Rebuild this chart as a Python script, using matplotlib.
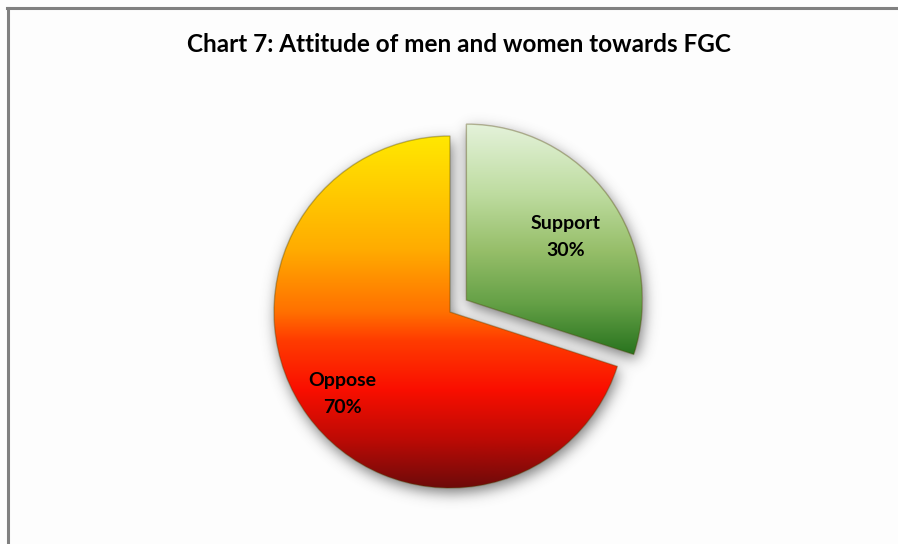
import numpy as np
import matplotlib
matplotlib.use('Agg')
import matplotlib.pyplot as plt
from matplotlib.colors import LinearSegmentedColormap
from matplotlib.lines import Line2D
from matplotlib.patches import Wedge

labels = ['Support', 'Oppose']
values = [30, 70]
title = 'Chart 7: Attitude of men and women towards FGC'

W, H = 898, 544
R = 176.0
CX, CY = 450.0, 312.0

fig = plt.figure(figsize=(W / 100, H / 100), dpi=100)
fig.patch.set_facecolor('#fdfdfd')
ax = fig.add_axes([0, 0, 1, 1])
wedges, texts = ax.pie(values, explode=[0.115, 0], startangle=90, counterclock=False,
                       radius=1, wedgeprops=dict(facecolor='none', edgecolor='none'))
xl = (-CX / R, (W - CX) / R)
yl = (-(H - CY) / R, CY / R)

# soft shadow
xs = np.linspace(xl[0], xl[1], W)
ys = np.linspace(yl[1], yl[0], H)
X, Y = np.meshgrid(xs, ys)
mask = np.zeros_like(X)
for w in wedges:
    c = w.center
    dx, dy = X - c[0], Y - c[1]
    ang = np.degrees(np.arctan2(dy, dx))
    inside = (np.hypot(dx, dy) <= w.r) & (((ang - w.theta1) % 360) <= (w.theta2 - w.theta1))
    mask[inside] = 1.0
sig = 7.0
k = np.arange(-25, 26)
kern = np.exp(-k ** 2 / (2 * sig ** 2)); kern /= kern.sum()
blur = np.apply_along_axis(lambda r: np.convolve(r, kern, mode='same'), 1, mask)
blur = np.apply_along_axis(lambda r: np.convolve(r, kern, mode='same'), 0, blur)
blur = np.roll(blur, 5, axis=0)
blur = np.roll(blur, 2, axis=1)
sh = np.zeros((H, W, 4))
sh[..., :3] = 0.3
sh[..., 3] = np.clip(blur * 0.75, 0, 1)
ax.imshow(sh, extent=[xl[0], xl[1], yl[0], yl[1]], origin='upper', aspect='auto', zorder=0)

cm_support = LinearSegmentedColormap.from_list('sup', [
    (0.0, (228/255, 242/255, 218/255)),
    (0.3, (190/255, 220/255, 160/255)),
    (0.55, (150/255, 190/255, 105/255)),
    (0.78, (100/255, 160/255, 70/255)),
    (1.0, (40/255, 115/255, 30/255))])
cm_oppose = LinearSegmentedColormap.from_list('opp', [
    (0.0, (255/255, 232/255, 0/255)),
    (0.32, (255/255, 172/255, 0/255)),
    (0.5, (255/255, 112/255, 0/255)),
    (0.58, (255/255, 60/255, 0/255)),
    (0.72, (250/255, 15/255, 0/255)),
    (0.86, (190/255, 10/255, 5/255)),
    (1.0, (110/255, 10/255, 10/255))])

grad = np.linspace(0, 1, 256).reshape(-1, 1)
for w, cm, lo in zip(wedges, [cm_support, cm_oppose], [-0.31, -1.0]):
    c = w.center
    im = ax.imshow(grad, cmap=cm, origin='upper', aspect='auto', zorder=2,
                   extent=[c[0] - w.r, c[0] + w.r, c[1] + lo * w.r, c[1] + w.r])
    im.set_clip_path(w)
    edge = Wedge(c, w.r, w.theta1, w.theta2, facecolor='none',
                 edgecolor=(0.3, 0.25, 0.0, 0.35), lw=1.0, zorder=3)
    ax.add_patch(edge)

ax.text((566 - CX) / R, (CY - 237) / R, 'Support\n30%', ha='center', va='center',
        fontsize=14, fontweight='bold', family='Lato', linespacing=1.75, zorder=5)
ax.text((342 - CX) / R, (CY - 394) / R, 'Oppose\n70%', ha='center', va='center',
        fontsize=14, fontweight='bold', family='Lato', linespacing=1.75, zorder=5)

ax.set_xlim(*xl)
ax.set_ylim(*yl)
ax.set_aspect('equal')
ax.axis('off')

fig.text(459 / W, 1 - 45 / H, title, ha='center', va='center', fontsize=17.5,
         fontweight='bold', family='Lato')

fig.add_artist(Line2D([7.5 / W, 7.5 / W], [0, 1 - 8 / H], color='#808080', lw=2.2))
fig.add_artist(Line2D([6.5 / W, 1], [1 - 8 / H, 1 - 8 / H], color='#808080', lw=2.2))

fig.savefig('out.png', dpi=100, facecolor=fig.get_facecolor())
